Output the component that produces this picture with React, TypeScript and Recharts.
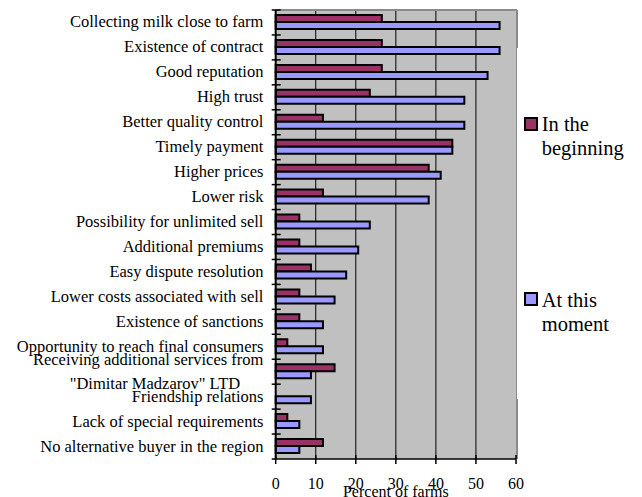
import React from 'react';
import { BarChart, Bar, XAxis, YAxis, CartesianGrid, Legend, Customized } from 'recharts';

const reasons = [
  'Collecting milk close to farm',
  'Existence of contract',
  'Good reputation',
  'High trust',
  'Better quality control',
  'Timely payment',
  'Higher prices',
  'Lower risk',
  'Possibility for unlimited sell',
  'Additional premiums',
  'Easy dispute resolution',
  'Lower costs associated with sell',
  'Existence of sanctions',
  'Opportunity to reach final consumers',
  'Receiving additional services from\n"Dimitar Madzarov" LTD',
  'Friendship relations',
  'Lack of special requirements',
  'No alternative buyer in the region',
];

// percent of farms naming each reason
const inTheBeginning = [26.5, 26.5, 26.5, 23.5, 11.8, 44.1, 38.2, 11.8, 5.9, 5.9, 8.8, 5.9, 5.9, 2.9, 14.7, 0, 2.9, 11.8];
const atThisMoment = [55.9, 55.9, 52.9, 47.1, 47.1, 44.1, 41.2, 38.2, 23.5, 20.6, 17.6, 14.7, 11.8, 11.8, 8.8, 8.8, 5.9, 5.9];

const percentTicks = [0, 10, 20, 30, 40, 50, 60];
const gridValues = [10, 20, 30, 40, 50];

const seriesNames = ['In the beginning', 'At this moment'];
const seriesColors = ['#993366', '#9999FF'];

const WIDTH = 642;
const HEIGHT = 497;
const MARGIN = { top: 10, right: 126, bottom: 8, left: 0 };
const Y_AXIS_WIDTH = 275.7;
const X_AXIS_HEIGHT = 30;

const PLOT_LEFT = MARGIN.left + Y_AXIS_WIDTH;
const PLOT_RIGHT = WIDTH - MARGIN.right;
const PLOT_TOP = MARGIN.top;
const PLOT_BOTTOM = HEIGHT - MARGIN.bottom - X_AXIS_HEIGHT;
const BAND = (PLOT_BOTTOM - PLOT_TOP) / reasons.length;

const FONT = "'Liberation Serif', 'Times New Roman', serif";

const rows = reasons.map((reason, i) => ({
  reason,
  beginning: inTheBeginning[i],
  moment: atThisMoment[i],
}));

const ReasonTick = (props: any) => {
  const { x, y, payload, index } = props;
  const lines = String(payload.value).split('\n');
  const top = y - BAND / 2;
  const isLast = index === reasons.length - 1;
  return (
    <g>
      <line x1={x - 4} x2={x + 5} y1={top} y2={top} stroke="#000" strokeWidth={1.5} />
      {isLast && <line x1={x - 4} x2={x} y1={y + BAND / 2} y2={y + BAND / 2} stroke="#000" strokeWidth={1.5} />}
      {lines.length === 1 ? (
        <text x={x - 12.3} y={y + 5} textAnchor="end" fontFamily={FONT} fontSize={16.5} fill="#000">
          {lines[0]}
        </text>
      ) : (
        <g>
          <text x={x - 12.3} y={y - 7} textAnchor="end" fontFamily={FONT} fontSize={16.5} fill="#000">
            {lines[0]}
          </text>
          <text x={x - 35.5} y={y + 17} textAnchor="end" fontFamily={FONT} fontSize={16.5} fill="#000">
            {lines[1]}
          </text>
        </g>
      )}
    </g>
  );
};

const PercentTick = (props: any) => {
  const { x, y, payload } = props;
  return (
    <g>
      <line x1={x} x2={x} y1={y - 4} y2={y + 5} stroke="#000" strokeWidth={1.5} />
      <text x={x} y={y + 29.5} textAnchor="middle" fontFamily={FONT} fontSize={16} fill="#000">
        {payload.value}
      </text>
    </g>
  );
};

const AxisTitle = (props: any) => {
  const { viewBox } = props;
  return (
    <text x={viewBox.x + viewBox.width / 2} y={viewBox.y + 37.5} textAnchor="middle" fontFamily={FONT} fontSize={16} fill="#000">
      Percent of farms
    </text>
  );
};

// gray frame along the top and right edge of the plot area
const PlotFrame = () => (
  <g>
    <line x1={PLOT_LEFT} x2={PLOT_RIGHT + 1} y1={PLOT_TOP} y2={PLOT_TOP} stroke="#8a8a8a" strokeWidth={2} />
    <line x1={PLOT_RIGHT + 1} x2={PLOT_RIGHT + 1} y1={PLOT_TOP} y2={PLOT_BOTTOM} stroke="#8a8a8a" strokeWidth={2} />
  </g>
);

const itemTops = [64, 240];
const squareOffsets = [5.2, 4];

const SeriesLegend = () => (
  <div style={{ position: 'relative', width: '100%', height: '100%', fontFamily: FONT, fontSize: 20.5, lineHeight: '24px', color: '#000' }}>
    {seriesNames.map((name, i) => (
      <div key={name} style={{ position: 'absolute', left: 7.5, top: itemTops[i], display: 'flex', alignItems: 'flex-start' }}>
        <span
          style={{
            display: 'inline-block',
            width: 10,
            height: 10,
            border: '2px solid #000',
            background: seriesColors[i],
            marginTop: squareOffsets[i],
            flex: 'none',
          }}
        />
        <span style={{ marginLeft: 3.7, width: 95 }}>{name}</span>
      </div>
    ))}
  </div>
);

export default function App() {
  return (
    <div style={{ position: 'absolute', left: 0, top: 0, width: WIDTH, height: HEIGHT, background: '#fff' }}>
      <BarChart
        width={WIDTH}
        height={HEIGHT}
        data={rows}
        layout="vertical"
        margin={MARGIN}
        barCategoryGap={5}
        barGap={0}
      >
        <CartesianGrid
          horizontal={false}
          verticalValues={gridValues}
          stroke="#000"
          strokeWidth={1}
          fill="#C0C0C0"
          fillOpacity={1}
        />
        <XAxis
          type="number"
          domain={[0, 60]}
          ticks={percentTicks}
          height={X_AXIS_HEIGHT}
          axisLine={{ stroke: '#000', strokeWidth: 1.7 }}
          tickLine={false}
          tickSize={0}
          tickMargin={0}
          tick={<PercentTick />}
          label={{ content: <AxisTitle /> }}
        />
        <YAxis
          type="category"
          dataKey="reason"
          width={Y_AXIS_WIDTH}
          interval={0}
          axisLine={{ stroke: '#000', strokeWidth: 2 }}
          tickLine={false}
          tickSize={0}
          tickMargin={0}
          tick={<ReasonTick />}
        />
        <Customized component={<PlotFrame />} />
        <Bar dataKey="beginning" name={seriesNames[0]} fill={seriesColors[0]} stroke="#000" strokeWidth={2} isAnimationActive={false} />
        <Bar dataKey="moment" name={seriesNames[1]} fill={seriesColors[1]} stroke="#000" strokeWidth={2} isAnimationActive={false} />
        <Legend
          layout="vertical"
          align="center"
          verticalAlign="middle"
          content={<SeriesLegend />}
          wrapperStyle={{ left: 516.5, top: 48, width: 125.5, height: 351, background: '#fff' }}
        />
      </BarChart>
    </div>
  );
}
